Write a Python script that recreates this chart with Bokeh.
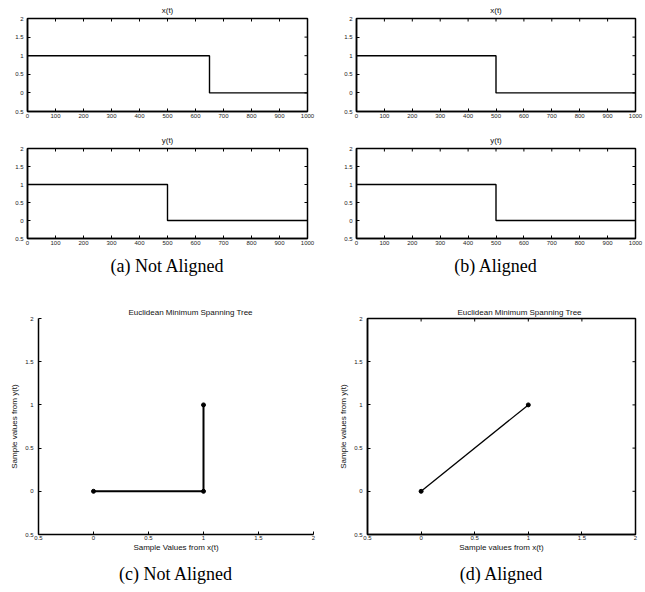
import math
from bokeh.plotting import figure
from bokeh.models import Range1d, FixedTicker, Title
from bokeh.layouts import column, row
from bokeh.embed import file_html
from bokeh.resources import INLINE

# ---------------- data ----------------
ax_t = [0, 650, 1000]
ax_v = [1, 0, 0]
ay_t = [0, 500, 1000]
ay_v = [1, 0, 0]
bx_t = [0, 500, 1000]
bx_v = [1, 0, 0]
by_t = [0, 500, 1000]
by_v = [1, 0, 0]

time_range = (0, 1000)
amp_range = (-0.5, 2)
time_ticks = [0, 100, 200, 300, 400, 500, 600, 700, 800, 900, 1000]
amp_ticks = [-0.5, 0, 0.5, 1, 1.5, 2]
amp_tick_labels = ["0.5", "0", "0.5", "1", "1.5", "2"]

c_x = [0, 1, 1]
c_y = [0, 0, 1]
d_x = [0, 1]
d_y = [0, 1]

titles_top = ["x(t)", "y(t)"]
emst_title = "Euclidean Minimum Spanning Tree"
captions = ["(a) Not Aligned", "(b) Aligned", "(c) Not Aligned", "(d) Aligned"]

FONT = "Liberation Sans"
SERIF = "Liberation Serif"
amp_over = {float(k): v for k, v in zip(amp_ticks, amp_tick_labels)}


def style_axis(ax, ticks, overrides=None, standoff=3):
    ax.ticker = FixedTicker(ticks=ticks)
    ax.axis_line_color = "black"
    ax.axis_line_width = 1.5
    ax.major_tick_in = 3
    ax.major_tick_out = 0
    ax.major_tick_line_color = "black"
    ax.major_tick_line_width = 1
    ax.minor_tick_line_color = None
    ax.major_label_text_font = FONT
    ax.major_label_text_font_size = "6px"
    ax.major_label_text_color = "#222222"
    ax.major_label_standoff = standoff
    if overrides:
        ax.major_label_overrides = overrides


def base_fig(width, height, left, right, top, bottom, xr, yr):
    p = figure(width=width, height=height, output_backend="svg", toolbar_location=None,
               x_range=Range1d(*xr), y_range=Range1d(*yr),
               min_border_left=left, min_border_right=right,
               min_border_top=top, min_border_bottom=bottom)
    p.grid.visible = False
    p.background_fill_color = "white"
    p.border_fill_color = "white"
    return p


def box_ticks(p, xticks, yticks, xr, yr):
    # inward tick marks on the top and right edges of the box
    p.ray(x=xticks, y=[yr[1]] * len(xticks), length=3, length_units="screen",
          angle=-math.pi / 2, line_color="black", line_width=1)
    p.ray(x=[xr[1]] * len(yticks), y=yticks, length=3, length_units="screen",
          angle=math.pi, line_color="black", line_width=1)
    p.outline_line_color = "black"
    p.outline_line_width = 1.5


def add_title(p, text, size="8px", offset=None, standoff=2):
    p.title.text = text
    p.title.text_font = FONT
    p.title.text_font_size = size
    p.title.text_font_style = "normal"
    p.title.text_color = "#111111"
    p.title.standoff = standoff
    if offset is None:
        p.title.align = "center"
    else:
        p.title.align = "left"
        p.title.offset = offset


def add_caption(p, text, standoff=10):
    t = Title(text=text, text_font=SERIF, text_font_size="18px", text_font_style="normal",
              align="center", text_color="black", standoff=standoff)
    p.add_layout(t, "below")


def signal_fig(t, v, title, width, height, left, right, top, bottom, caption=None):
    p = base_fig(width, height, left, right, top, bottom, time_range, amp_range)
    add_title(p, title, size="8px", standoff=7)
    style_axis(p.xaxis[0], time_ticks, standoff=2)
    style_axis(p.yaxis[0], amp_ticks, overrides=amp_over, standoff=4)
    box_ticks(p, time_ticks, amp_ticks, time_range, amp_range)
    p.step(t, v, mode="after", line_color="black", line_width=1.4)
    if caption:
        add_caption(p, caption, standoff=12)
    return p


def emst_fig(xs, ys, xlabel, width, left, right, boxed, lw, caption):
    p = base_fig(width, 304, left, right, 30, 58, amp_range, amp_range)
    add_title(p, emst_title, size="8px", offset=90, standoff=4)
    style_axis(p.xaxis[0], amp_ticks, overrides=amp_over, standoff=1)
    style_axis(p.yaxis[0], amp_ticks, overrides=amp_over, standoff=5)
    for ax, lab, so in ((p.xaxis[0], xlabel, 0), (p.yaxis[0], "Sample values from y(t)", 3)):
        ax.axis_label = lab
        ax.axis_label_text_font = FONT
        ax.axis_label_text_font_size = "8px"
        ax.axis_label_text_font_style = "normal"
        ax.axis_label_text_color = "#111111"
        ax.axis_label_standoff = so
    if boxed:
        box_ticks(p, amp_ticks, amp_ticks, amp_range, amp_range)
    else:
        p.outline_line_color = None
    p.line(xs, ys, line_color="black", line_width=lw)
    p.scatter(xs, ys, size=4, color="black")
    add_caption(p, caption, standoff=15)
    return p


a1 = signal_fig(ax_t, ax_v, titles_top[0], 320, 130, 27, 13, 18, 19)
b1 = signal_fig(bx_t, bx_v, titles_top[0], 325, 130, 36, 10, 18, 19)
a2 = signal_fig(ay_t, ay_v, titles_top[1], 320, 158, 27, 13, 16, 50, captions[0])
b2 = signal_fig(by_t, by_v, titles_top[1], 325, 158, 36, 10, 16, 50, captions[1])
c = emst_fig(c_x, c_y, "Sample Values from x(t)", 320, 38, 7, False, 2, captions[2])
d = emst_fig(d_x, d_y, "Sample values from x(t)", 325, 47, 10, True, 1.3, captions[3])

layout = column(row(a1, b1), row(a2, b2), row(c, d))

open("out.html", "w").write(file_html(layout, INLINE))
